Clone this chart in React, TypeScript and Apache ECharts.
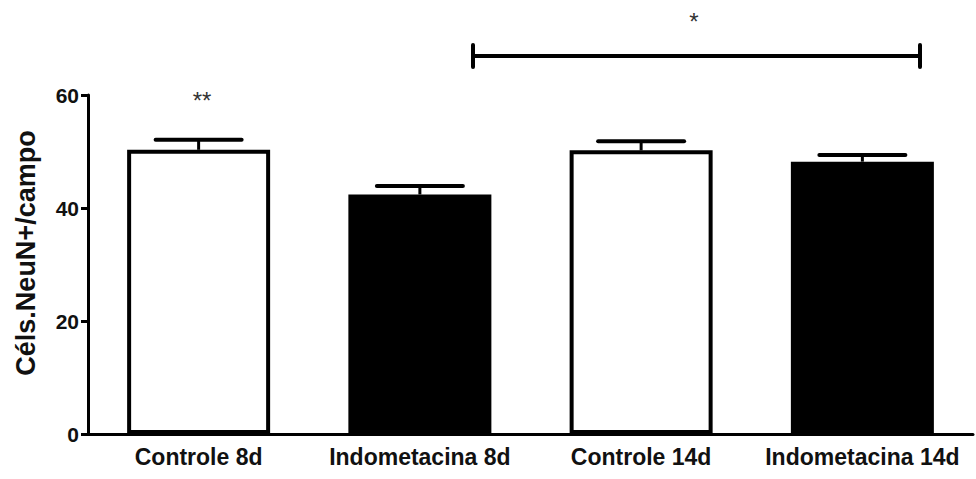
import React, { useEffect, useRef } from "react";
import * as echarts from "echarts";

const categories = ["Controle 8d", "Indometacina 8d", "Controle 14d", "Indometacina 14d"];
const means = [50.3, 42.4, 50.2, 48.2];
const sems = [1.8, 1.5, 1.6, 1.2];
const fills = ["#ffffff", "#000000", "#ffffff", "#000000"];
const yTicks = { min: 0, max: 60, interval: 20 };
const yName = "Céls.NeuN+/campo";

const FONT = "'Liberation Sans', Arial, Helvetica, sans-serif";

export default function App() {
  const ref = useRef<HTMLDivElement>(null);
  useEffect(() => {
    if (!ref.current) return;
    document.body.style.margin = "0";
    const chart = echarts.init(ref.current, null, { renderer: "svg" });
    const option: any = {
      animation: false,
      backgroundColor: "#ffffff",
      grid: { left: 88, right: 3, top: 95, bottom: 45, containLabel: false },
      xAxis: {
        type: "category",
        data: categories,
        boundaryGap: true,
        axisLine: { lineStyle: { color: "#000", width: 3 } },
        axisTick: { alignWithLabel: true, length: 7, lineStyle: { color: "#000", width: 3 } },
        axisLabel: {
          interval: 0,
          hideOverlap: false,
          color: "#111",
          fontFamily: FONT,
          fontWeight: "bold",
          fontSize: 23,
          margin: 11,
        },
      },
      yAxis: {
        type: "value",
        min: yTicks.min,
        max: yTicks.max,
        interval: yTicks.interval,
        splitLine: { show: false },
        axisLine: { show: true, lineStyle: { color: "#000", width: 3 } },
        axisTick: { show: true, length: 7, lineStyle: { color: "#000", width: 3 } },
        axisLabel: {
          color: "#111",
          fontFamily: FONT,
          fontWeight: "bold",
          fontSize: 21,
          margin: 9,
        },
      },
      series: [
        {
          type: "bar",
          barWidth: 143,
          data: means.map((v, i) => ({
            value: v,
            itemStyle: { color: fills[i], borderColor: "#000", borderWidth: 4 },
          })),
          z: 2,
        },
        {
          type: "custom",
          z: 3,
          data: means.map((m, i) => [i, m, sems[i]]),
          renderItem: (params: any, api: any) => {
            const idx = api.value(0);
            const m = api.value(1);
            const e = api.value(2);
            const base = api.coord([idx, m]);
            const top = api.coord([idx, m + e]);
            const half = 43;
            return {
              type: "group",
              children: [
                {
                  type: "line",
                  shape: { x1: base[0], y1: base[1], x2: top[0], y2: top[1] },
                  style: { stroke: "#000", lineWidth: 3 },
                },
                {
                  type: "line",
                  shape: { x1: top[0] - half, y1: top[1], x2: top[0] + half, y2: top[1] },
                  style: { stroke: "#000", lineWidth: 4, lineCap: "round" },
                },
              ],
            };
          },
        },
      ],
      graphic: [
        {
          type: "text",
          x: 26,
          y: 253,
          rotation: Math.PI / 2,
          style: {
            text: yName,
            fontFamily: FONT,
            fontWeight: "bold",
            fontSize: 27,
            fill: "#111",
            align: "center",
            verticalAlign: "middle",
          },
        },
        {
          type: "line",
          shape: { x1: 473, y1: 56, x2: 920, y2: 56 },
          style: { stroke: "#000", lineWidth: 4 },
        },
        {
          type: "line",
          shape: { x1: 473, y1: 45, x2: 473, y2: 67 },
          style: { stroke: "#000", lineWidth: 4, lineCap: "round" },
        },
        {
          type: "line",
          shape: { x1: 920, y1: 45, x2: 920, y2: 67 },
          style: { stroke: "#000", lineWidth: 4, lineCap: "round" },
        },
        {
          type: "text",
          x: 694,
          y: 21,
          style: {
            text: "*",
            fontFamily: FONT,
            fontSize: 24,
            fill: "#333",
            align: "center",
            verticalAlign: "middle",
          },
        },
        {
          type: "text",
          x: 202,
          y: 100,
          style: {
            text: "**",
            fontFamily: FONT,
            fontSize: 24,
            fill: "#333",
            align: "center",
            verticalAlign: "middle",
          },
        },
      ],
    };
    chart.setOption(option);
    return () => chart.dispose();
  }, []);
  return <div ref={ref} style={{ width: 976, height: 479 }} />;
}
